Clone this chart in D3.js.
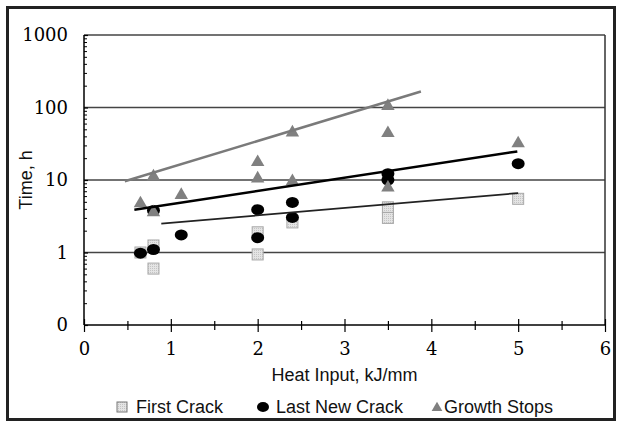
<!DOCTYPE html>
<html>
<head>
<meta charset="utf-8">
<script src="https://cdn.jsdelivr.net/npm/d3@7"></script>
<style>
  html, body { margin: 0; padding: 0; background: #fff; }
  svg { display: block; }
</style>
</head>
<body>
<svg id="chart" width="622" height="426"></svg>
<script>
// ---- data ----
const firstCrackX = [0.65, 0.8, 0.8, 2.0, 2.0, 2.4, 3.5, 3.5, 5.0];
const firstCrackY = [1.0, 1.25, 0.6, 1.9, 0.94, 2.6, 4.2, 3.0, 5.5];
const lastNewCrackX = [0.65, 0.8, 0.8, 1.12, 2.0, 2.0, 2.4, 2.4, 3.5, 3.5, 5.0];
const lastNewCrackY = [0.98, 1.1, 3.8, 1.75, 3.9, 1.6, 4.9, 3.05, 12.2, 10, 16.8];
const growthStopsX = [0.65, 0.8, 0.8, 1.12, 2.0, 2.0, 2.4, 2.4, 3.5, 3.5, 3.5, 5.0];
const growthStopsY = [4.9, 11.5, 3.7, 6.4, 18.2, 10.8, 46.5, 9.9, 108, 45.6, 8.1, 33];
// trend lines (exponential fits, straight on log axis): endpoints
const growthTrendX = [0.47, 3.88];
const growthTrendY = [9.6, 166];
const lastTrendX = [0.58, 4.99];
const lastTrendY = [3.9, 24.8];
const firstTrendX = [0.89, 5.0];
const firstTrendY = [2.5, 6.6];

const xTicks = [0, 1, 2, 3, 4, 5, 6];
const xMinorTicks = [0.5, 1.5, 2.5, 3.5, 4.5, 5.5];
const yTicks = [0.1, 1, 10, 100, 1000];
const yTickLabels = ["0", "1", "10", "100", "1000"];
const seriesNames = ["First Crack", "Last New Crack", "Growth Stops"];
const xTitle = "Heat Input, kJ/mm";
const yTitle = "Time, h";

// ---- layout ----
const svg = d3.select("#chart");
const L = 84, R = 605, T = 35, B = 325;
const x = d3.scaleLinear().domain([0, 6]).range([L, R]);
const y = d3.scaleLog().domain([0.1, 1000]).range([B, T]);

const defs = svg.append("defs");
const pat = defs.append("pattern").attr("id", "dots").attr("width", 2).attr("height", 2)
  .attr("patternUnits", "userSpaceOnUse");
pat.append("rect").attr("width", 2).attr("height", 2).attr("fill", "#e4e4e4");
pat.append("rect").attr("width", 1).attr("height", 1).attr("fill", "#c4c4c4");

// outer frame
svg.append("rect").attr("x", 7.5).attr("y", 7.5).attr("width", 607).attr("height", 412)
  .attr("fill", "none").attr("stroke", "#222").attr("stroke-width", 3);

// gridlines
svg.append("g").selectAll("line").data(yTicks.slice(1)).join("line")
  .attr("x1", L).attr("x2", R).attr("y1", d => y(d)).attr("y2", d => y(d))
  .attr("stroke", "#444").attr("stroke-width", 1.3);
// right border
svg.append("line").attr("x1", R).attr("x2", R).attr("y1", T).attr("y2", B)
  .attr("stroke", "#333").attr("stroke-width", 1.5);

// y axis
const yMinor = [];
for (let e = -1; e < 3; e++) for (let m = 2; m <= 9; m++) yMinor.push(m * Math.pow(10, e));
const yAx = svg.append("g").attr("transform", `translate(${L},0)`);
yAx.call(d3.axisLeft(y).tickValues(yMinor).tickSize(3).tickFormat(""))
  .call(g => g.select(".domain").remove());
yAx.selectAll(".tick line").attr("x2", 3).attr("stroke", "#000").attr("stroke-width", 1);
const yAxMaj = svg.append("g").attr("transform", `translate(${L},0)`);
yAxMaj.call(d3.axisLeft(y).tickValues(yTicks).tickSize(5).tickPadding(11)
  .tickFormat((d, i) => yTickLabels[i]));
yAxMaj.select(".domain").attr("d", `M0,${B}V${T}`).attr("stroke", "#000").attr("stroke-width", 1.5);
yAxMaj.selectAll(".tick line").attr("x2", 4).attr("stroke", "#000").attr("stroke-width", 1.2);
yAxMaj.selectAll(".tick text").attr("font-family", "DejaVu Serif").attr("font-size", 18)
  .attr("fill", "#000");

// x axis
const xAx = svg.append("g").attr("transform", `translate(0,${B})`);
xAx.call(d3.axisBottom(x).tickValues(xMinorTicks).tickSize(5).tickFormat(""))
  .call(g => g.select(".domain").remove());
xAx.selectAll(".tick line").attr("y1", -4).attr("stroke", "#000").attr("stroke-width", 1.2);
const xAxMaj = svg.append("g").attr("transform", `translate(0,${B})`);
xAxMaj.call(d3.axisBottom(x).tickValues(xTicks).tickSize(7).tickPadding(10).tickFormat(d3.format("d")));
xAxMaj.select(".domain").attr("d", `M${L},0H${R}`).attr("stroke", "#000").attr("stroke-width", 1.5);
xAxMaj.selectAll(".tick line").attr("y1", -6).attr("stroke", "#000").attr("stroke-width", 1.2);
xAxMaj.selectAll(".tick text").attr("font-family", "DejaVu Serif").attr("font-size", 18)
  .attr("fill", "#000");

// titles
svg.append("text").attr("x", (L + R) / 2).attr("y", 381).attr("text-anchor", "middle")
  .attr("font-family", "Liberation Sans, Arial, sans-serif").attr("font-size", 18).attr("fill", "#111")
  .text(xTitle);
svg.append("text").attr("transform", `translate(32,${(T + B) / 2}) rotate(-90)`)
  .attr("text-anchor", "middle").attr("font-family", "Liberation Sans, Arial, sans-serif")
  .attr("font-size", 18).attr("fill", "#111").text(yTitle);

// markers
const tri = d3.symbol().type(d3.symbolTriangle).size(78);
const fc = firstCrackX.map((v, i) => [v, firstCrackY[i]]);
const lnc = lastNewCrackX.map((v, i) => [v, lastNewCrackY[i]]);
const gs = growthStopsX.map((v, i) => [v, growthStopsY[i]]);

svg.append("g").selectAll("rect").data(fc).join("rect")
  .attr("x", d => x(d[0]) - 5.5).attr("y", d => y(d[1]) - 5.5).attr("width", 11).attr("height", 11)
  .attr("fill", "url(#dots)").attr("stroke", "#a8a8a8").attr("stroke-width", 1);
svg.append("g").selectAll("ellipse").data(lnc).join("ellipse")
  .attr("cx", d => x(d[0])).attr("cy", d => y(d[1])).attr("rx", 6.5).attr("ry", 5.5)
  .attr("fill", "#000");
svg.append("g").selectAll("path").data(gs).join("path")
  .attr("transform", d => `translate(${x(d[0])},${y(d[1]) + 1})`).attr("d", tri)
  .attr("fill", "#808080");

// trend lines
const line = d3.line().x(d => x(d[0])).y(d => y(d[1]));
const trends = [
  { xs: growthTrendX, ys: growthTrendY, c: "#7a7a7a", w: 2.5 },
  { xs: lastTrendX, ys: lastTrendY, c: "#000", w: 2.5 },
  { xs: firstTrendX, ys: firstTrendY, c: "#222", w: 1.8 }
];
svg.append("g").selectAll("path").data(trends).join("path")
  .attr("d", t => line(t.xs.map((v, i) => [v, t.ys[i]])))
  .attr("fill", "none").attr("stroke", t => t.c).attr("stroke-width", t => t.w);

// legend
const lg = svg.append("g").attr("font-family", "Liberation Sans, Arial, sans-serif")
  .attr("font-size", 18).attr("fill", "#111");
const legendX = [122, 263, 437];
lg.append("rect").attr("x", legendX[0] - 5).attr("y", 402).attr("width", 10).attr("height", 10)
  .attr("fill", "url(#dots)").attr("stroke", "#777");
lg.append("ellipse").attr("cx", legendX[1]).attr("cy", 407).attr("rx", 6).attr("ry", 5).attr("fill", "#000");
lg.append("path").attr("transform", `translate(${legendX[2]},408)`)
  .attr("d", d3.symbol().type(d3.symbolTriangle).size(50)).attr("fill", "#808080");
const legendTextX = [136, 276, 444];
lg.selectAll("text").data(seriesNames).join("text")
  .attr("x", (d, i) => legendTextX[i]).attr("y", 413).text(d => d);
</script>
</body>
</html>
